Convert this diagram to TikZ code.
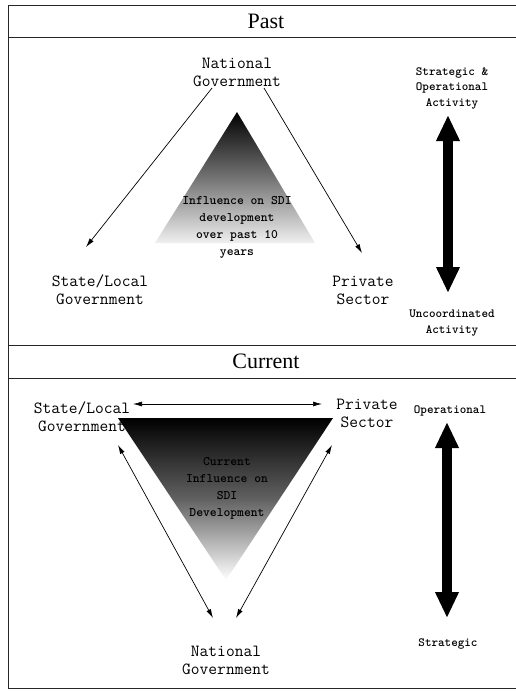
\documentclass[tikz,border=0pt]{standalone}
\usepackage{fontspec}
\newfontfamily\headfont{Liberation Serif}
\usetikzlibrary{arrows.meta}
\begin{document}
\begin{tikzpicture}[x=1pt,y=-1pt,
  frame/.style={line width=0.9pt, draw=black!85},
  head/.style={font=\headfont\fontsize{22}{24}\selectfont, inner sep=0pt},
  actor/.style={align=center, font=\ttfamily\fontsize{17}{18}\selectfont, inner sep=0pt},
  scalelabel/.style={align=center, font=\ttfamily\bfseries\fontsize{12.5}{15.5}\selectfont, inner sep=0pt},
  innerlabel/.style={align=center, font=\ttfamily\bfseries\fontsize{13}{17}\selectfont, inner sep=0pt},
  link/.style={line width=0.7pt, -{Latex[length=9pt,width=5pt]}},
  dlink/.style={line width=0.7pt, {Latex[length=9pt,width=5pt]}-{Latex[length=9pt,width=5pt]}},
  axis/.style={line width=10pt, {Triangle[length=26pt,width=22pt]}-{Triangle[length=26pt,width=22pt]}},
]
\useasboundingbox (0,0) rectangle (516,691);
\fill[white] (0,0) rectangle (516,691);

% outer frame and header bands
\draw[frame] (516,5) -- (8,5) -- (8,688) -- (516,688);
\draw[frame] (8,37) -- (516,37);
\draw[frame] (8,345) -- (516,345);
\draw[frame] (8,378) -- (516,378);
\node[head] (hpast) at (266,21) {Past};
\node[head] (hcur) at (266,361) {Current};

% ---------------- Past ----------------
\shade[top color=black, bottom color=black!6, middle color=black!55]
  (237,112) -- (315,243) -- (155,243) -- cycle;
\node[innerlabel] (pinfl) at (237,227) {Influence on SDI\\development\\over past 10\\years};

\node[actor] (pnat) at (237,72) {National\\Government};
\node[actor] (pstate) at (100,290) {State/Local\\Government};
\node[actor] (ppriv) at (363,290) {Private\\Sector};

\coordinate (pl1) at (212,88);
\coordinate (pl2) at (86,247);
\coordinate (pr1) at (264,88);
\coordinate (pr2) at (362,253);
\draw[link] (pl1) -- (pl2);
\draw[link] (pr1) -- (pr2);

\node[scalelabel] (ptop) at (452,88) {Strategic \&\\Operational\\Activity};
\node[scalelabel] (pbot) at (452,323) {Uncoordinated\\Activity};
\coordinate (pa1) at (448,115);
\coordinate (pa2) at (448,293);
\draw[axis] (pa1) -- (pa2);

% ---------------- Current ----------------
\shade[top color=black, bottom color=white, middle color=black!62]
  (118,418) -- (333,418) -- (226,580) -- cycle;
\node[innerlabel] (cinfl) at (227,488) {Current\\Influence on\\SDI\\Development};

\node[actor] (cstate) at (82,417) {State/Local\\Government};
\node[actor] (cpriv) at (367,413) {Private\\Sector};
\node[actor] (cnat) at (226,660) {National\\Government};

\coordinate (ch1) at (133,404);
\coordinate (ch2) at (322,404);
\coordinate (cl1) at (118,445);
\coordinate (cl2) at (213,618);
\coordinate (cr1) at (332,445);
\coordinate (cr2) at (236,618);
\draw[dlink] (ch1) -- (ch2);
\draw[dlink] (cl1) -- (cl2);
\draw[dlink] (cr1) -- (cr2);

\node[scalelabel] (ctop) at (450,411) {Operational};
\node[scalelabel] (cbot) at (448,644) {Strategic};
\coordinate (ca1) at (447,422);
\coordinate (ca2) at (447,618);
\draw[axis] (ca1) -- (ca2);
\end{tikzpicture}
\end{document}
